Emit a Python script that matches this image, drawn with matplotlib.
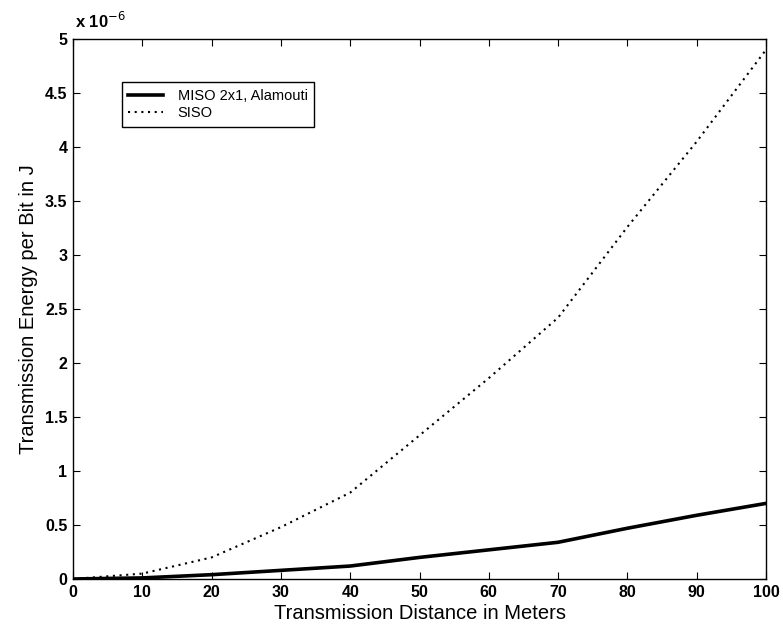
import matplotlib.pyplot as plt
from matplotlib.ticker import FuncFormatter

# ---------------------------------------------------------
# data (energy values in units of 1e-6 J)
# ---------------------------------------------------------
distance = [0, 10, 20, 30, 40, 50, 60, 70, 80, 90, 100]
miso_energy = [0.0, 0.01, 0.04, 0.08, 0.12, 0.20, 0.27, 0.34, 0.47, 0.59, 0.70]
siso_energy = [0.0, 0.05, 0.20, 0.48, 0.80, 1.33, 1.86, 2.42, 3.26, 4.05, 4.90]

x_ticks = [0, 10, 20, 30, 40, 50, 60, 70, 80, 90, 100]
y_ticks = [0, 0.5, 1, 1.5, 2, 2.5, 3, 3.5, 4, 4.5, 5]

plt.rcParams["font.family"] = ["Liberation Sans", "DejaVu Sans"]

fig = plt.figure(figsize=(7.83, 6.30), dpi=100)
ax = fig.add_axes([73 / 783, 1 - 579 / 630, (766 - 73) / 783, (579 - 39) / 630])

ax.plot(distance, miso_energy, color="black", linewidth=2.6, label="MISO 2x1, Alamouti")
ax.plot(distance, siso_energy, color="black", linewidth=1.5, linestyle=(0, (1, 2.2)),
        label="SISO")

ax.set_xlim(0, 100)
ax.set_ylim(0, 5)
ax.set_xticks(x_ticks)
ax.set_yticks(y_ticks)
ax.yaxis.set_major_formatter(FuncFormatter(lambda v, p: f"{v:g}"))

ax.tick_params(direction="in", top=True, right=True, length=5, width=0.8,
               labelsize=11.5, pad=4)
for lbl in ax.get_xticklabels() + ax.get_yticklabels():
    lbl.set_fontweight("bold")
for s in ax.spines.values():
    s.set_linewidth(1.0)

ax.set_xlabel("Transmission Distance in Meters", fontsize=14.5, labelpad=3)
ax.set_ylabel("Transmission Energy per Bit in J", fontsize=14.5, labelpad=5)

# exponent label like MATLAB
ax.text(0.003, 1.014, r"x 10$^{-6}$", transform=ax.transAxes, fontsize=12,
        fontweight="bold", ha="left", va="bottom")

leg = ax.legend(loc="upper left", bbox_to_anchor=(0.07, 0.92), borderaxespad=0,
                fontsize=10.5, fancybox=False, framealpha=1, edgecolor="black",
                handlelength=2.4, handletextpad=1.0, borderpad=0.45, labelspacing=0.25)
leg.get_frame().set_linewidth(1.0)

fig.savefig("out.png", dpi=100)
